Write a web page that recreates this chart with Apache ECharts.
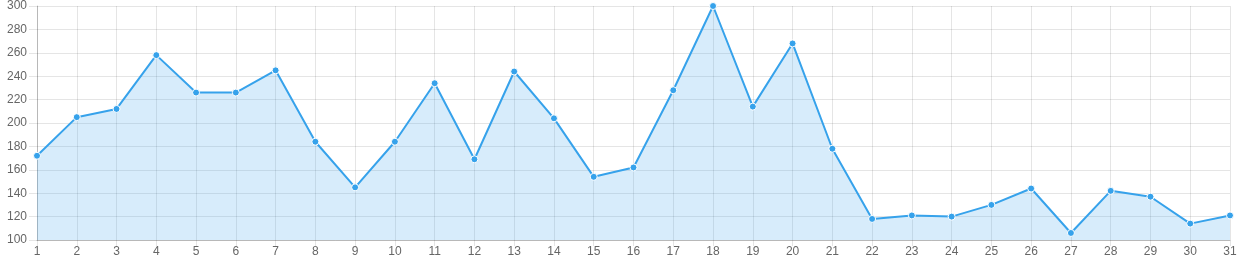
<!DOCTYPE html>
<html>
<head>
<meta charset="utf-8">
<script src="https://cdn.jsdelivr.net/npm/echarts@6/dist/echarts.min.js"></script>
<style>
html,body{margin:0;padding:0;background:#fff;}
#chart{width:1240px;height:268px;}
</style>
</head>
<body>
<div id="chart"></div>
<script>
const categories = ['1','2','3','4','5','6','7','8','9','10','11','12','13','14','15','16','17','18','19','20','21','22','23','24','25','26','27','28','29','30','31'];
const values = [172,205,212,258,226,226,245,184,145,184,234,169,244,204,154,162,228,300,214,268,178,118,121,120,130,144,106,142,137,114,121];
const yMin = 100, yMax = 300, yStep = 20;

const chart = echarts.init(document.getElementById('chart'), null, {renderer:'canvas'});
const gridColor = 'rgba(0,0,0,0.1)';
const fontFam = 'Liberation Sans, Arial, Helvetica, sans-serif';
chart.setOption({
  animation: false,
  grid: {left: 37, right: 10, top: 6, bottom: 28, containLabel: false},
  xAxis: {
    type: 'category',
    data: categories,
    boundaryGap: false,
    axisLine: {show: true, lineStyle: {color: 'rgba(0,0,0,0.2)', width: 1}},
    axisTick: {show: true, length: 6, alignWithLabel: true, lineStyle: {color: gridColor}},
    axisLabel: {color: '#666', fontSize: 12, fontFamily: fontFam, margin: 6, interval: 0},
    splitLine: {show: true, lineStyle: {color: gridColor, width: 1}}
  },
  yAxis: {
    type: 'value',
    min: yMin, max: yMax, interval: yStep,
    axisLine: {show: true, lineStyle: {color: 'rgba(0,0,0,0.2)', width: 1}},
    axisTick: {show: true, length: 8, lineStyle: {color: gridColor}},
    axisLabel: {color: '#666', fontSize: 12, fontFamily: fontFam, margin: 10},
    splitLine: {show: true, lineStyle: {color: gridColor, width: 1}}
  },
  series: [{
    type: 'line',
    data: values,
    symbol: 'circle',
    symbolSize: 7,
    showAllSymbol: true,
    itemStyle: {color: '#36a2eb', borderColor: '#fff', borderWidth: 1},
    lineStyle: {color: '#36a2eb', width: 2},
    areaStyle: {color: 'rgba(54,162,235,0.2)', opacity: 1, origin: 'start'}
  }]
});
</script>
</body>
</html>
